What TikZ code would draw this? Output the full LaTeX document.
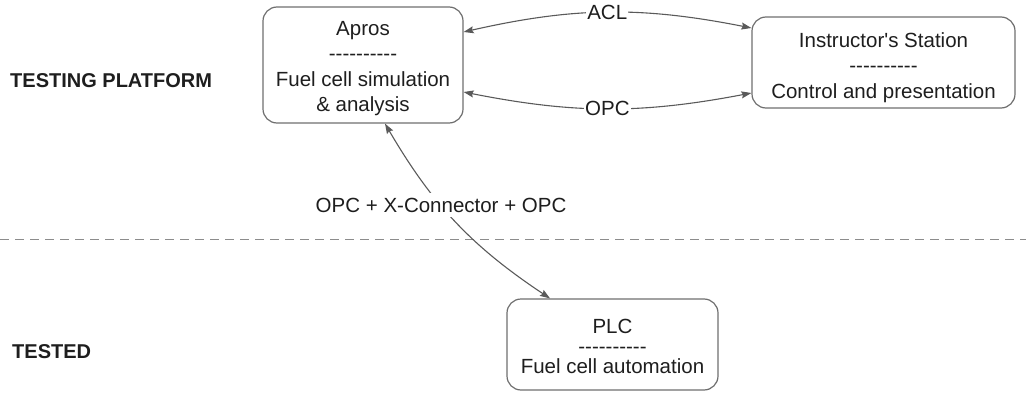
\documentclass[tikz,border=0pt]{standalone}
\usepackage{fontspec}
\setmainfont{Liberation Sans}
\usetikzlibrary{arrows.meta}
\definecolor{boxc}{HTML}{6E6E6E}
\definecolor{linec}{HTML}{5A5A5A}
\definecolor{txt}{HTML}{1E1E1E}
\definecolor{dashc}{HTML}{8C8C8C}
\newcommand{\dsh}{\mbox{-}\mbox{-}\mbox{-}\mbox{-}\mbox{-}\mbox{-}\mbox{-}\mbox{-}\mbox{-}\mbox{-}}
\tikzset{
 box/.style={draw=boxc, line width=1.2pt, rounded corners=14pt, inner sep=0pt, align=center, text=txt},
 conn/.style={draw=linec, line width=1.1pt, {Stealth[length=10pt,width=7pt,inset=1.5pt]}-{Stealth[length=10pt,width=7pt,inset=1.5pt]}},
 lab/.style={fill=white, text=txt, inner sep=1pt, font=\fontsize{20.5}{24}\selectfont},
 side/.style={text=txt, font=\bfseries\fontsize{20}{24}\selectfont, anchor=base west, inner sep=0pt},
}
\begin{document}
\begin{tikzpicture}[x=1pt,y=1pt]
\useasboundingbox (0,0) rectangle (1026,392);
\node[box, font=\fontsize{20.5}{25.5}\selectfont, minimum width=200pt, minimum height=116pt] (apros) at (363,327)
  {\rule{0pt}{28pt}Apros\\\dsh\\Fuel cell simulation\\\& analysis\rule[-11.5pt]{0pt}{11.5pt}};
\node[box, font=\fontsize{20.5}{25.5}\selectfont, minimum width=263pt, minimum height=91pt] (inst) at (883.5,329.5)
  {\rule{0pt}{30pt}Instructor\textquotesingle s Station\\\dsh\\Control and presentation\rule[-10pt]{0pt}{10pt}};
\node[box, font=\fontsize{20.5}{20}\selectfont, minimum width=211pt, minimum height=91pt] (plc) at (612.5,47.5)
  {\rule{0pt}{34pt}PLC\\\dsh\\Fuel cell automation\rule[-17pt]{0pt}{17pt}};
\node[side] (tp) at (10,305) {TESTING PLATFORM};
\node[side] (td) at (12,34) {TESTED};
\coordinate (dl) at (0,153);
\coordinate (dr) at (1026,153);
\draw[dashc, line width=1pt, dash pattern=on 9pt off 6pt] (dl) -- (dr);
\draw[conn] ([yshift=33pt]apros.east) to[bend left=12] node[lab] (acl) {ACL} ([yshift=34.5pt]inst.west);
\draw[conn] ([yshift=-27pt]apros.east) to[bend right=11] node[lab] (opc) {OPC} ([yshift=-30.5pt]inst.west);
\draw[conn] ([xshift=22pt]apros.south) to[bend right=13] node[lab, pos=0.4, inner sep=5pt] (xc) {OPC + X-Connector + OPC} ([xshift=-62.5pt]plc.north);
\end{tikzpicture}
\end{document}
